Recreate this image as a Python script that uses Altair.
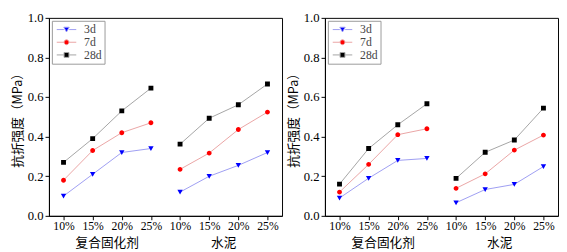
import json
import altair as alt
import pandas as pd

doses = ["10%", "15%", "20%", "25%"]
groups = ["复合固化剂", "水泥"]
series = ["3d", "7d", "28d"]
y_title = "抗折强度（MPa）"

# left panel: [composite agent values, cement values]
left_3d = [[0.10, 0.21, 0.32, 0.34], [0.12, 0.20, 0.255, 0.32]]
left_7d = [[0.18, 0.33, 0.42, 0.47], [0.235, 0.317, 0.436, 0.524]]
left_28d = [[0.27, 0.39, 0.53, 0.645], [0.362, 0.493, 0.561, 0.666]]

# right panel
right_3d = [[0.09, 0.19, 0.28, 0.29], [0.066, 0.133, 0.159, 0.249]]
right_7d = [[0.12, 0.26, 0.41, 0.44], [0.139, 0.212, 0.332, 0.408]]
right_28d = [[0.16, 0.34, 0.46, 0.566], [0.189, 0.321, 0.383, 0.544]]

marker_colors = ["#0000FF", "#FF0000", "#000000"]
line_colors = ["#9C9CF2", "#E9A3A3", "#A3A3A3"]
shapes = [
    "M-4,0L-1.1,0M1.1,0L4,0M-1.1,-0.95L1.1,-0.95L0,1Z",
    "M-4,0L-1.1,0M1.1,0L4,0M1,0A1,1 0 1,1 -1,0A1,1 0 1,1 1,0Z",
    "M-4,0L-1.1,0M1.1,0L4,0M-1,-1L1,-1L1,1L-1,1Z",
]

W, H = 239, 203
SERIF = "Liberation Serif"
CJK = "Noto Sans CJK SC"

n = len(doses)
positions = list(range(1, n * len(groups) + 1))
tick_labels = [d for g in groups for d in doses]


def build(panel_values):
    rows = []
    for s, vals in zip(series, panel_values):
        for gi, g in enumerate(groups):
            for di, d in enumerate(doses):
                rows.append(dict(series=s, group=g, dose=d,
                                 pos=gi * n + di + 1, value=vals[gi][di]))
    return pd.DataFrame(rows)


group_df = pd.DataFrame({
    "group": groups,
    "pos": [gi * n + (n + 1) / 2 for gi in range(len(groups))],
})


def panel(df):
    x = alt.X(
        "pos:Q",
        scale=alt.Scale(domain=[0.5, n * len(groups) + 0.5], nice=False, zero=False),
        axis=alt.Axis(
            values=positions,
            labelExpr=f"{json.dumps(tick_labels)}[datum.value - 1]",
            title=None, grid=False, tickSize=4, labelPadding=1,
            domainColor="black", tickColor="black",
            labelFont=SERIF, labelFontSize=12, labelColor="black",
        ),
    )
    y = alt.Y(
        "value:Q",
        scale=alt.Scale(domain=[0, 1], nice=False),
        axis=alt.Axis(
            values=[0, 0.2, 0.4, 0.6, 0.8, 1.0], format=".1f",
            title=y_title, titleFont=CJK, titleFontSize=13,
            titleFontWeight="normal", titlePadding=3, titleColor="black",
            grid=False, tickSize=4, labelPadding=2,
            domainColor="black", tickColor="black",
            labelFont=SERIF, labelFontSize=13, labelColor="black",
        ),
    )
    leg = alt.Legend(
        title=None, orient="top-left", offset=3, padding=3,
        strokeColor="#999999", fillColor="white",
        labelFont=SERIF, labelFontSize=12, labelColor="#444444",
        symbolSize=25, symbolStrokeWidth=1, symbolOffset=6,
        labelOffset=12, rowPadding=1,
    )
    base = alt.Chart(df)
    lines = base.mark_line(strokeWidth=1).encode(
        x=x, y=y,
        stroke=alt.Stroke("series:N", scale=alt.Scale(domain=series, range=line_colors), legend=leg),
        detail="group:N",
    )
    pts = base.mark_point(filled=True, size=25, strokeWidth=0, opacity=1).encode(
        x=x, y=y,
        fill=alt.Fill("series:N", scale=alt.Scale(domain=series, range=marker_colors), legend=leg),
        stroke=alt.Stroke("series:N", scale=alt.Scale(domain=series, range=line_colors), legend=leg),
        shape=alt.Shape("series:N", scale=alt.Scale(domain=series, range=shapes), legend=leg),
    )
    labels = alt.Chart(group_df).mark_text(
        font=CJK, fontSize=13, baseline="middle", color="black"
    ).encode(x=x, y=alt.value(H + 28), text="group:N")
    return alt.layer(lines, pts, labels).properties(width=W, height=H)


left = panel(build([left_3d, left_7d, left_28d]))
right = panel(build([right_3d, right_7d, right_28d]))

chart = (
    alt.hconcat(left, right, spacing=4)
    .resolve_scale(fill="independent", stroke="independent", shape="independent")
    .properties(padding={"left": 3, "top": 0, "right": 0, "bottom": 0})
    .configure_view(stroke="black", strokeWidth=1)
)

chart.save("out.html", embed_options={"renderer": "svg", "actions": False})
